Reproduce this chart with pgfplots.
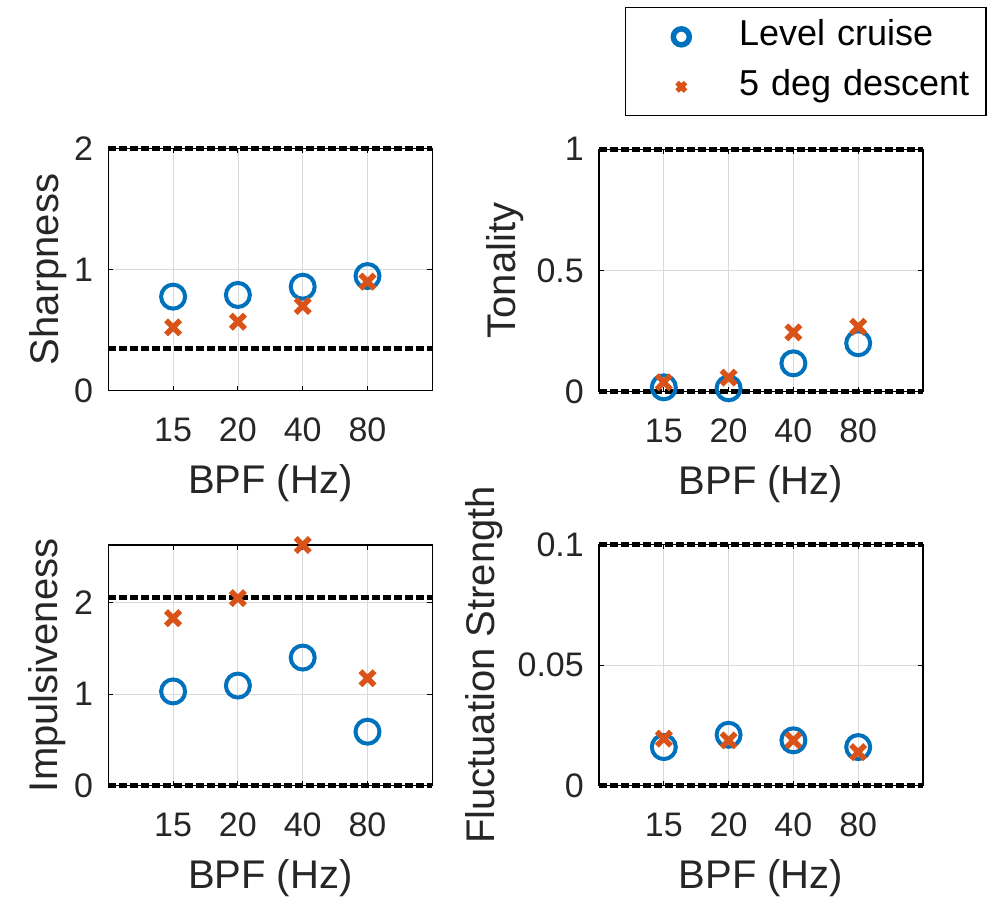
\documentclass[border=0pt]{standalone}
\usepackage{fontspec}
\setmainfont{Liberation Sans}
\usepackage{pgfplots}
\pgfplotsset{compat=1.18}
\definecolor{mblue}{rgb}{0,0.447,0.741}
\definecolor{morange}{rgb}{0.85,0.325,0.098}
\definecolor{mgray}{HTML}{262626}

\pgfplotsset{
  mstyle/.style={
    scale only axis, width=324pt, clip=false,
    xmin=0, xmax=5, xtick={1,2,3,4}, xticklabels={15,20,40,80},
    ymin=0, scaled y ticks=false,
    grid=major, grid style={black!15, line width=0.8pt},
    axis line style={black, line width=1.2pt},
    tick align=inside, major tick length=5pt,
    tick style={black, line width=1pt},
    /pgf/number format/assume math mode=true,
    tick label style={font=\fontsize{34}{37}\selectfont, text=mgray},
    xticklabel style={inner sep=0pt, anchor=north, yshift=-27pt},
    yticklabel style={inner sep=0pt, anchor=east, xshift=-15pt},
    label style={font=\fontsize{40}{43}\selectfont, text=mgray},
    xlabel={BPF (Hz)},
    xlabel style={at={(axis description cs:0.5,0)}, anchor=base, yshift=-102.6pt},
  },
  lc/.style={only marks, mark=o, mark size=12pt, color=mblue, line width=4pt},
  dd/.style={only marks, mark=x, mark size=10pt, color=morange, line width=5.5pt},
  th/.style={black, line width=4.5pt, dash pattern=on 8pt off 3pt},
}

\begin{document}
\begin{tikzpicture}
\useasboundingbox (0,0) rectangle (989pt,898pt);

% Top-left: Sharpness
\begin{axis}[mstyle, at={(108.3pt,507.3pt)}, anchor=south west, height=242.4pt,
  ymax=2, ytick={0,1,2}, yticklabels={0,1,2},
  ylabel={Sharpness},
  ylabel style={at={(axis description cs:-0.1543,0.5)}, anchor=base, rotate=0}]
\addplot[lc] coordinates {(1,0.776) (2,0.790) (3,0.858) (4,0.946)};
\addplot[dd] coordinates {(1,0.523) (2,0.569) (3,0.699) (4,0.900)};
\addplot[th] coordinates {(0,0.35) (5,0.35)};
\addplot[th] coordinates {(0,2) (5,2)};
\end{axis}

% Top-right: Tonality
\begin{axis}[mstyle, at={(599pt,506.3pt)}, anchor=south west, height=242.4pt,
  ymax=1, ytick={0,0.5,1}, yticklabels={0,0.5,1},
  ylabel={Tonality},
  ylabel style={at={(axis description cs:-0.259,0.5)}, anchor=base, rotate=0},
  legend style={at={(axis description cs:0.0802,1.586)}, anchor=north west,
    draw=black, line width=1.2pt, fill=white,
    inner xsep=0pt, inner ysep=12pt,
    font=\fontsize{36}{40}\selectfont,
    row sep=16pt, cells={anchor=west},
    nodes={inner xsep=2pt, inner ysep=0pt, text width=245pt, text height=26pt, text depth=8pt, text=black}}]
\addplot[lc, legend image code/.code={\path (0pt,-5pt) (106pt,5pt);
  \draw[mark=o, mark size=8pt, line width=5.5pt, color=mblue] plot coordinates {(53pt,0pt)};}]
  coordinates {(1,0.018) (2,0.014) (3,0.117) (4,0.200)};
\addplot[dd, legend image code/.code={\path (0pt,-5pt) (106pt,5pt);
  \draw[mark=x, mark size=6pt, line width=5pt, color=morange] plot coordinates {(53pt,0pt)};}]
  coordinates {(1,0.039) (2,0.058) (3,0.245) (4,0.268)};
\addplot[th] coordinates {(0,0) (5,0)};
\addplot[th] coordinates {(0,1) (5,1)};
\legend{Level cruise, 5 deg descent}
\end{axis}

% Bottom-left: Impulsiveness
\begin{axis}[mstyle, at={(108.3pt,112.3pt)}, anchor=south west, height=240.7pt,
  ymax=2.63, ytick={0,1,2}, yticklabels={0,1,2},
  ylabel={Impulsiveness},
  ylabel style={at={(axis description cs:-0.157,0.5)}, anchor=base, rotate=0}]
\addplot[lc] coordinates {(1,1.030) (2,1.094) (3,1.400) (4,0.590)};
\addplot[dd] coordinates {(1,1.830) (2,2.050) (3,2.630) (4,1.175)};
\addplot[th] coordinates {(0,0) (5,0)};
\addplot[th] coordinates {(0,2.057) (5,2.057)};
\end{axis}

% Bottom-right: Fluctuation Strength
\begin{axis}[mstyle, at={(599pt,112.3pt)}, anchor=south west, height=241.4pt,
  ymax=0.1, ytick={0,0.05,0.1}, yticklabels={0,0.05,0.1},
  ylabel={Fluctuation Strength},
  ylabel style={at={(axis description cs:-0.321,0.5)}, anchor=base, rotate=0}]
\addplot[lc] coordinates {(1,0.0160) (2,0.0211) (3,0.0188) (4,0.0160)};
\addplot[dd] coordinates {(1,0.0195) (2,0.0188) (3,0.0188) (4,0.0139)};
\addplot[th] coordinates {(0,0) (5,0)};
\addplot[th] coordinates {(0,0.1) (5,0.1)};
\end{axis}
\end{tikzpicture}
\end{document}
